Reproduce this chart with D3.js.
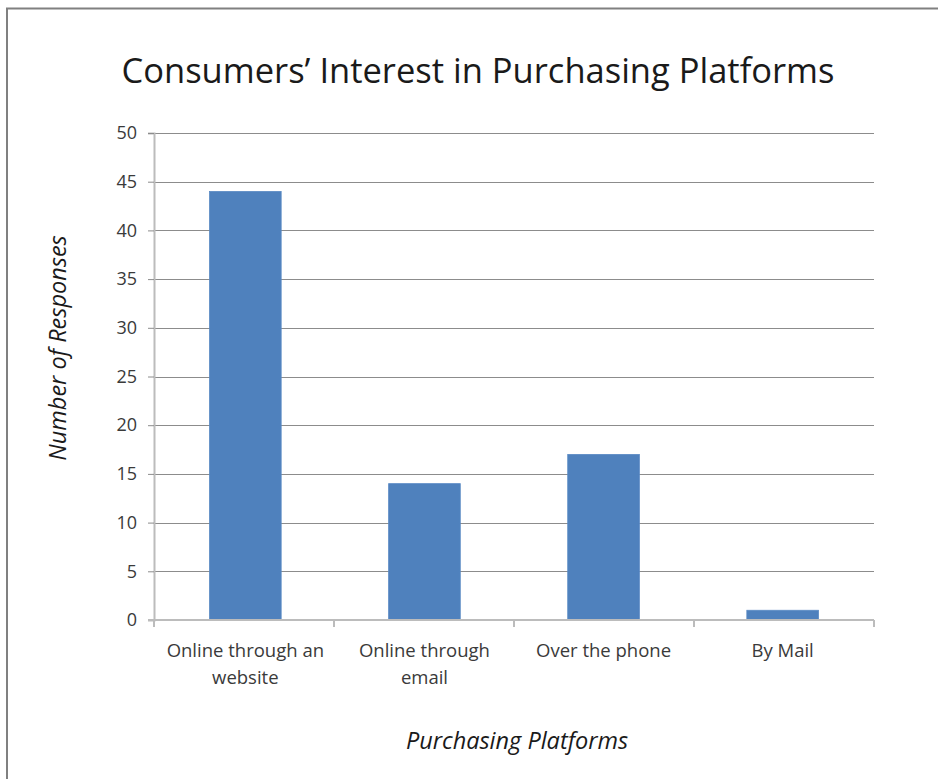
<!DOCTYPE html>
<html>
<head>
<meta charset="utf-8">
<script src="https://cdn.jsdelivr.net/npm/d3@7"></script>
<style>
  html, body { margin: 0; padding: 0; background: #fff; }
  svg { display: block; }
  text { font-family: "Open Sans", "Noto Sans", sans-serif; }
</style>
</head>
<body>
<svg id="chart" width="938" height="779"></svg>
<script>
// Survey responses per purchasing platform
const categories = [["Online through an", "website"], ["Online through", "email"], ["Over the phone"], ["By Mail"]];
const responses = [44, 14, 17, 1];
const yTicks = [0, 5, 10, 15, 20, 25, 30, 35, 40, 45, 50];

const title = "Consumers\u2019 Interest in Purchasing Platforms";
const xTitle = "Purchasing Platforms";
const yTitle = "Number of Responses";

const W = 938, H = 779;
const margin = { left: 154, right: 64, top: 133, bottom: 159 };
const svg = d3.select("#chart");

// Outer frame (only left and top edges fall inside the canvas)
svg.append("path")
  .attr("d", `M7,${H} L7,8.5 L${W},8.5`)
  .attr("fill", "none").attr("stroke", "#808080").attr("stroke-width", 2);

const keys = categories.map(c => c.join(" "));
const x = d3.scaleBand().domain(keys)
  .range([margin.left, W - margin.right])
  .paddingInner(0.6).paddingOuter(0.31);
const y = d3.scaleLinear().domain([0, 50]).range([H - margin.bottom, margin.top]);

// Horizontal gridlines
svg.append("g").selectAll("line").data(yTicks.filter(t => t > 0)).join("line")
  .attr("x1", margin.left).attr("x2", W - margin.right)
  .attr("y1", d => Math.round(y(d)) + 0.5).attr("y2", d => Math.round(y(d)) + 0.5)
  .attr("stroke", "#8c8c8c").attr("stroke-width", 1);

// Bars
svg.append("g").selectAll("rect").data(responses).join("rect")
  .attr("x", (d, i) => x(keys[i]))
  .attr("width", x.bandwidth())
  .attr("y", d => y(d))
  .attr("height", d => y(0) - y(d))
  .attr("fill", "#4f81bd")
  .attr("stroke", "#5a8ac4").attr("stroke-width", 0.8);

// Y axis
const yAxis = d3.axisLeft(y).tickValues(yTicks).tickSize(6).tickPadding(11);
const gy = svg.append("g").attr("transform", `translate(${margin.left},0)`).call(yAxis);
gy.select(".domain").attr("stroke", "#bcbcbc").attr("stroke-width", 2);
gy.selectAll(".tick line").attr("stroke", "#8c8c8c");
gy.selectAll(".tick text").attr("font-size", 18).attr("fill", "#3a3a3a")
  .style("font-family", "\"Open Sans\", sans-serif");

// X axis with ticks at the category boundaries
const bounds = d3.range(keys.length + 1).map(i => margin.left + i * (W - margin.left - margin.right) / keys.length);
const gx = svg.append("g");
gx.append("line")
  .attr("x1", margin.left - 6).attr("x2", W - margin.right)
  .attr("y1", y(0)).attr("y2", y(0))
  .attr("stroke", "#bcbcbc").attr("stroke-width", 2);
gx.selectAll("line.t").data(bounds).join("line").attr("class", "t")
  .attr("x1", d => d).attr("x2", d => d)
  .attr("y1", y(0)).attr("y2", y(0) + 7)
  .attr("stroke", "#bcbcbc").attr("stroke-width", 2);

// Category labels
const lab = svg.append("g").selectAll("text").data(categories).join("text")
  .attr("text-anchor", "middle")
  .attr("font-size", 18.5).attr("fill", "#3a3a3a")
  .attr("x", (d, i) => x(keys[i]) + x.bandwidth() / 2)
  .attr("y", y(0) + 37);
lab.selectAll("tspan").data(d => d).join("tspan")
  .attr("x", function () { return d3.select(this.parentNode).attr("x"); })
  .attr("dy", (d, i) => i === 0 ? 0 : 27)
  .text(d => d);

// Titles
svg.append("text").attr("x", 478).attr("y", 83).attr("text-anchor", "middle")
  .attr("font-size", 34.5).attr("fill", "#1a1a1a").text(title);
svg.append("text").attr("x", 517).attr("y", 749).attr("text-anchor", "middle")
  .attr("font-size", 23.5).attr("font-style", "italic").attr("fill", "#1a1a1a").text(xTitle);
svg.append("text").attr("transform", "translate(66,348) rotate(-90)").attr("text-anchor", "middle")
  .attr("font-size", 23.5).attr("font-style", "italic").attr("fill", "#1a1a1a").text(yTitle);
</script>
</body>
</html>
